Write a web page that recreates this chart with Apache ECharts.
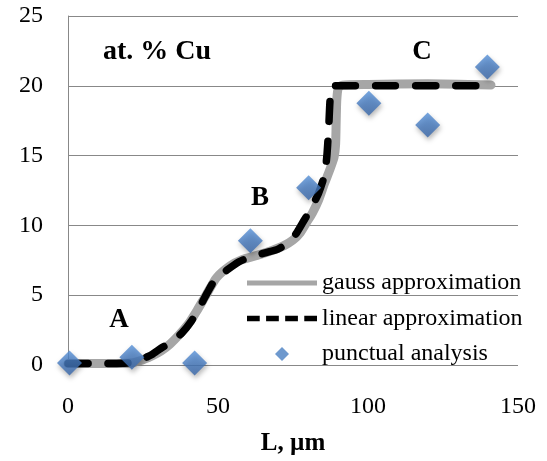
<!DOCTYPE html>
<html>
<head>
<meta charset="utf-8">
<script src="https://cdn.jsdelivr.net/npm/echarts@6/dist/echarts.min.js"></script>
<style>
html,body{margin:0;padding:0;background:#fff;overflow:hidden;}
#chart{width:547px;height:461px;}
</style>
</head>
<body>
<div id="chart"></div>
<script>
// ---- data ----
var xTicks = [0, 50, 100, 150];
var yTicks = [0, 5, 10, 15, 20, 25];

var gaussX = [0, 10, 20, 24, 28, 31, 34, 37, 40, 43, 46, 49.5, 54, 58, 63, 68, 72, 75, 77.5, 79.5, 81.5, 83.5, 85.5, 87.3, 88.7, 89.2, 89.4, 89.6, 90.1, 91.5, 100, 120, 141];
var gaussY = [0.1, 0.1, 0.12, 0.3, 0.65, 1.0, 1.5, 2.15, 2.9, 3.9, 5.0, 6.25, 7.1, 7.55, 7.85, 8.2, 8.55, 8.95, 9.5, 10.2, 10.9, 11.8, 13.0, 14.0, 14.9, 15.8, 17.5, 19.0, 19.85, 20.05, 20.1, 20.15, 20.05];

var linearX = [0, 10, 18, 22, 25, 28, 31, 34.5, 38, 41, 44, 46.5, 49, 53, 57, 61, 66, 70, 73, 76, 78.5, 81, 83.5, 85.5, 86.3, 86.9, 87.3, 87.8, 95, 140];
var linearY = [0.1, 0.1, 0.12, 0.2, 0.45, 0.75, 1.2, 1.65, 2.3, 3.1, 4.2, 5.2, 6.1, 6.8, 7.4, 7.75, 8.05, 8.3, 8.7, 9.4, 10.3, 11.2, 12.3, 13.6, 15.0, 17.0, 18.8, 20.0, 20.0, 20.0];

var pointX = [0.5, 21.3, 42.2, 60.8, 80.2, 100.3, 119.9, 139.8];
var pointY = [0.15, 0.55, 0.15, 8.9, 12.7, 18.75, 17.2, 21.35];

var seriesNames = ['gauss approximation', 'linear approximation', 'punctual analysis'];
var annotations = ['at. % Cu', 'A', 'B', 'C'];
var axisTitleX = 'L, µm';

function pairs(xs, ys) { return xs.map(function (x, i) { return [x, ys[i]]; }); }

var FONT = '"Liberation Serif", "Times New Roman", serif';
var chart = echarts.init(document.getElementById('chart'), null, {renderer: 'canvas', width: 547, height: 461});

var option = {
  animation: false,
  backgroundColor: '#ffffff',
  grid: {left: 68, right: 29, top: 16, bottom: 93, containLabel: false},
  xAxis: {
    type: 'value', min: xTicks[0], max: xTicks[xTicks.length - 1], interval: 50,
    name: axisTitleX, nameLocation: 'middle', nameGap: 66,
    nameTextStyle: {fontFamily: FONT, fontSize: 25, fontWeight: 'bold', color: '#000'},
    axisLine: {show: false}, axisTick: {show: false}, splitLine: {show: false},
    axisLabel: {fontFamily: FONT, fontSize: 24, color: '#000', margin: 30}
  },
  yAxis: {
    type: 'value', min: yTicks[0], max: yTicks[yTicks.length - 1], interval: 5,
    axisLine: {show: true, lineStyle: {color: '#888888', width: 1}},
    axisTick: {show: false},
    splitLine: {show: true, lineStyle: {color: '#888888', width: 1}},
    axisLabel: {fontFamily: FONT, fontSize: 24, color: '#000', margin: 25}
  },
  legend: {
    orient: 'vertical', left: 247, top: 271, padding: 0,
    itemWidth: 70, itemHeight: 14, itemGap: 11.5, symbolKeepAspect: true,
    textStyle: {fontFamily: FONT, fontSize: 24, color: '#000', lineHeight: 24},
    data: [
      {name: seriesNames[0], icon: 'path://M0,0L70,0L70,5L0,5Z', itemStyle: {color: '#a6a6a6'}},
      {name: seriesNames[1], icon: 'path://M0,0L12,0L12,5L0,5ZM18,0L30,0L30,5L18,5ZM36,0L48,0L48,5L36,5ZM54,0L66,0L66,5L54,5Z', itemStyle: {color: '#000000'}},
      {name: seriesNames[2], icon: 'path://M7,0L14,7L7,14L0,7Z', itemStyle: {color: '#4a7fc2'}}
    ]
  },
  graphic: [
    {type: 'text', x: 157, y: 52, style: {text: annotations[0], font: 'bold 28px ' + FONT, fill: '#000', align: 'center', verticalAlign: 'middle'}},
    {type: 'text', x: 119, y: 320, style: {text: annotations[1], font: 'bold 27px ' + FONT, fill: '#000', align: 'center', verticalAlign: 'middle'}},
    {type: 'text', x: 260, y: 198, style: {text: annotations[2], font: 'bold 27px ' + FONT, fill: '#000', align: 'center', verticalAlign: 'middle'}},
    {type: 'text', x: 422, y: 52, style: {text: annotations[3], font: 'bold 27px ' + FONT, fill: '#000', align: 'center', verticalAlign: 'middle'}}
  ],
  series: [
    {
      name: seriesNames[0], type: 'line', data: pairs(gaussX, gaussY),
      symbol: 'none', smooth: 0.2, z: 2,
      lineStyle: {color: '#a6a6a6', width: 9, cap: 'round', join: 'round'},
      itemStyle: {color: '#a6a6a6'}
    },
    {
      name: seriesNames[1], type: 'line', data: pairs(linearX, linearY),
      symbol: 'none', smooth: 0.2, z: 3,
      lineStyle: {color: '#000000', width: 7.5, type: [20, 20], cap: 'round', join: 'round'},
      itemStyle: {color: '#000000'}
    },
    {
      name: seriesNames[2], type: 'scatter', data: pairs(pointX, pointY),
      symbol: 'diamond', symbolSize: 25, z: 5,
      itemStyle: {
        color: new echarts.graphic.LinearGradient(0, 0, 0, 1, [
          {offset: 0, color: '#5590d8'}, {offset: 1, color: '#3866a8'}
        ]),
        shadowColor: 'rgba(0,0,0,0.35)', shadowBlur: 5, shadowOffsetX: 1, shadowOffsetY: 3
      }
    }
  ]
};
chart.setOption(option);
</script>
</body>
</html>
